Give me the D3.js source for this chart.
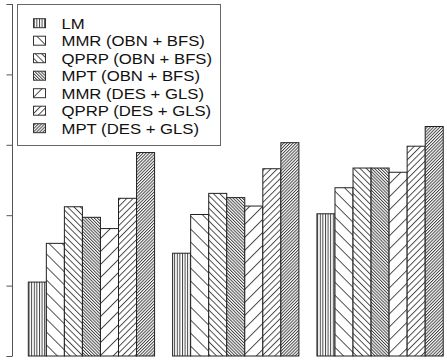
<!DOCTYPE html>
<html>
<head>
<meta charset="utf-8">
<script src="https://cdn.jsdelivr.net/npm/d3@7"></script>
<style>
  body { margin: 0; background: #fff; }
  svg { display: block; }
</style>
</head>
<body>
<div id="chart-area"></div>
<script>
var width = 447;
var height = 363;

// data (units of one axis tick)
var methods = ["LM", "MMR (OBN + BFS)", "QPRP (OBN + BFS)", "MPT (OBN + BFS)",
               "MMR (DES + GLS)", "QPRP (DES + GLS)", "MPT (DES + GLS)"];
var groups = ["1", "2", "3"];
var group1 = [1.05, 1.60, 2.12, 1.97, 1.81, 2.24, 2.89];
var group2 = [1.46, 2.01, 2.31, 2.25, 2.13, 2.66, 3.03];
var group3 = [2.02, 2.39, 2.67, 2.67, 2.61, 2.98, 3.26];
var yTicks = [0, 1, 2, 3, 4, 5];

// hatch style per method: angle of lines and spacing
var hatch = [
  {angle: 0, gap: 2.6},
  {angle: -45, gap: 9.2},
  {angle: -45, gap: 4.5},
  {angle: -45, gap: 2.2},
  {angle: 45, gap: 9.2},
  {angle: 45, gap: 4.5},
  {angle: 45, gap: 2.2}
];

var values = [group1, group2, group3];

var svg = d3.select("#chart-area")
            .append("svg")
            .attr("width", width)
            .attr("height", height);

var defs = svg.append("defs");
hatch.forEach(function(h, i) {
  var p = defs.append("pattern")
              .attr("id", "hatch" + i)
              .attr("patternUnits", "userSpaceOnUse")
              .attr("width", h.gap)
              .attr("height", 10)
              .attr("patternTransform", "rotate(" + h.angle + ")");
  p.append("rect").attr("width", h.gap).attr("height", 10).attr("fill", "#fff");
  p.append("line")
   .attr("x1", 0.5).attr("x2", 0.5)
   .attr("y1", 0).attr("y2", 10)
   .attr("stroke", "#333")
   .attr("stroke-width", 0.9);
});

// one unit per bar, one unit of space before each group
var x = d3.scaleLinear()
          .domain([0, 24])
          .range([10.26, 10.26 + 24 * 18.04]);

var y = d3.scaleLinear()
          .domain([0, 5])
          .range([356, 4]);

var bars = [];
values.forEach(function(vals, g) {
  vals.forEach(function(v, j) {
    bars.push({group: groups[g], method: j, value: v, u: g * 8 + j + 1});
  });
});

svg.append("g").selectAll("rect")
   .data(bars)
   .enter().append("rect")
   .attr("x", function(d) { return x(d.u); })
   .attr("y", function(d) { return y(d.value); })
   .attr("width", function(d) { return x(d.u + 1) - x(d.u); })
   .attr("height", function(d) { return y(0) - y(d.value); })
   .attr("fill", function(d) { return "url(#hatch" + d.method + ")"; })
   .attr("stroke", "#222")
   .attr("stroke-width", 1);

var leftAxis = d3.axisLeft(y)
                 .tickValues(yTicks)
                 .tickSize(6)
                 .tickFormat("");

var axisG = svg.append("g")
   .attr("transform", "translate(12.5,0)")
   .call(leftAxis);
axisG.select(".domain").attr("stroke", "#555").attr("d", "M0," + y(5) + "V" + y(0));
axisG.selectAll(".tick line").attr("stroke", "#555");

// legend
var legend = svg.append("g");
legend.append("rect")
      .attr("x", 17.5).attr("y", 4.5)
      .attr("width", 203).attr("height", 141)
      .attr("fill", "#fff")
      .attr("stroke", "#666")
      .attr("stroke-width", 1);

methods.forEach(function(m, i) {
  var cy = 23.2 + i * 17.5;
  legend.append("rect")
     .attr("x", 33.5).attr("y", cy - 4.5)
     .attr("width", 12).attr("height", 9)
     .attr("fill", "url(#hatch" + i + ")")
     .attr("stroke", "#333")
     .attr("stroke-width", 1);
  // the reference text is wider than it is tall, so stretch it a little
  legend.append("g")
     .attr("transform", "translate(61.5," + cy + ") scale(1.1,1)")
     .append("text")
     .attr("dy", "0.36em")
     .attr("font-family", "Liberation Sans, Arial, sans-serif")
     .attr("font-size", "15.2px")
     .attr("fill", "#111")
     .text(m);
});
</script>
</body>
</html>
